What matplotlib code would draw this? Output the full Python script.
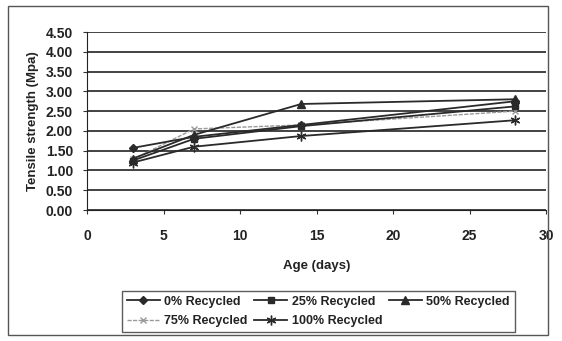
import matplotlib.pyplot as plt
from matplotlib.patches import Rectangle

plt.rcParams['font.family'] = ['Liberation Sans', 'DejaVu Sans']

# age in days
age = [3, 7, 14, 28]

# tensile strength (MPa) per recycled content
r0 = [1.57, 1.85, 2.15, 2.75]
r25 = [1.25, 1.80, 2.12, 2.62]
r50 = [1.30, 1.90, 2.68, 2.80]
r75 = [1.28, 2.05, 2.15, 2.50]
r100 = [1.20, 1.60, 1.87, 2.27]

yticks = [0.0, 0.5, 1.0, 1.5, 2.0, 2.5, 3.0, 3.5, 4.0, 4.5]
xticks = [0, 5, 10, 15, 20, 25, 30]

fig = plt.figure(figsize=(5.62, 3.41), dpi=100)
ax = fig.add_axes([87 / 562, 1 - 210 / 341, (546 - 87) / 562, (210 - 32) / 341])

# scanned frame around the whole chart
fig.patches.append(Rectangle((8 / 562, 6 / 341), 540 / 562, 329 / 341,
                             transform=fig.transFigure, fill=False,
                             edgecolor='#555555', linewidth=1.0))

for yv in yticks:
    ax.axhline(yv, color='#222222', linewidth=1.2, zorder=1)

l0, = ax.plot(age, r0, color='#2a2a2a', marker='D', markersize=4, linewidth=1.3, label='0% Recycled', zorder=3)
l25, = ax.plot(age, r25, color='#2a2a2a', marker='s', markersize=5, linewidth=1.3, label='25% Recycled', zorder=3)
l50, = ax.plot(age, r50, color='#2a2a2a', marker='^', markersize=6, linewidth=1.3, label='50% Recycled', zorder=3)
l75, = ax.plot(age, r75, color='#9a9a9a', marker='x', markersize=5, linewidth=1.0, linestyle=(0, (3, 1)),
               label='75% Recycled', zorder=2)
l100, = ax.plot(age, r100, color='#2a2a2a', marker=(6, 2, 0), markersize=7, linewidth=1.3,
                label='100% Recycled', zorder=3)

ax.set_xlim(0, 30)
ax.set_ylim(0, 4.5)
ax.set_xticks(xticks)
ax.set_yticks(yticks)
ax.set_yticklabels(['{:.2f}'.format(v) for v in yticks])
ax.tick_params(axis='y', labelsize=10, length=3, color='#333333', pad=7)
ax.tick_params(axis='x', labelsize=10, length=3, color='#333333', pad=11)
for lab in ax.get_xticklabels() + ax.get_yticklabels():
    lab.set_fontweight('bold')
    lab.set_color('#222222')

for side in ['top', 'right']:
    ax.spines[side].set_visible(False)
ax.spines['left'].set_color('#222222')
ax.spines['bottom'].set_color('#222222')

ax.set_xlabel('Age (days)', fontsize=9.5, fontweight='bold', color='#222222', labelpad=12)
ax.set_ylabel('Tensile strength (Mpa)', fontsize=9.5, fontweight='bold', color='#222222', labelpad=5)

# legend fills column first, so reorder to get rows 0/25/50 and 75/100
handles = [l0, l75, l25, l100, l50]
labels = [h.get_label() for h in handles]
leg = fig.legend(handles, labels, loc='lower left',
                 bbox_to_anchor=(122 / 562, 1 - 332 / 341, (515 - 122) / 562, 48 / 341),
                 ncol=3, mode='expand', fontsize=9, frameon=True, fancybox=False,
                 handlelength=2.6, handletextpad=0.4, borderaxespad=0,
                 columnspacing=0.8, labelspacing=0.6)
leg.get_frame().set_edgecolor('#333333')
leg.get_frame().set_linewidth(1.0)
for t in leg.get_texts():
    t.set_fontweight('bold')
    t.set_color('#222222')

plt.savefig('out.png', dpi=100)
